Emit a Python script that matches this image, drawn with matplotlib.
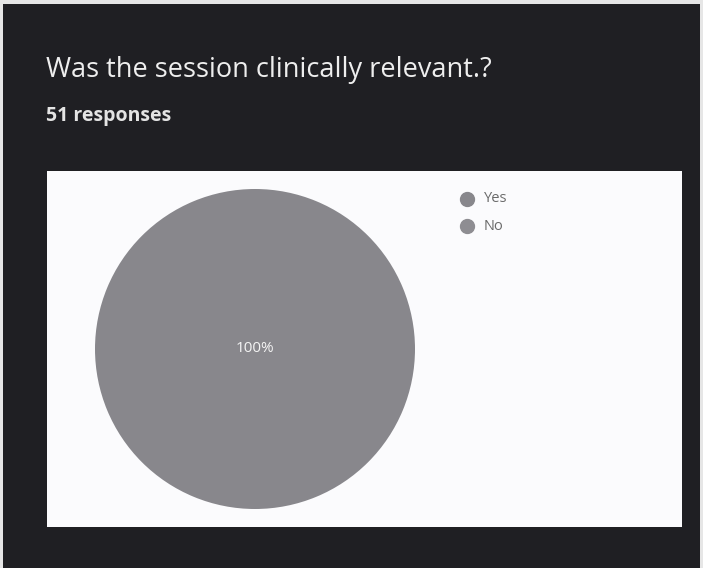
import matplotlib.pyplot as plt
from matplotlib.patches import Rectangle
from matplotlib.lines import Line2D

title = "Was the session clinically relevant.?"
subtitle = "51 responses"
labels = ["Yes", "No"]
counts = [51, 0]
colors = ["#88878c", "#8e8d92"]

W, H = 703, 568
fig = plt.figure(figsize=(W / 100, H / 100), dpi=100)
fig.patch.set_facecolor("#e6e6e6")

def box(x0, y0, x1, y1):
    # pixel coords (top-left origin) -> figure fraction
    return (x0 / W, 1 - y1 / H, (x1 - x0) / W, (y1 - y0) / H)

# dark card
x, y, w, h = box(3, 4, 700, 568)
fig.patches.append(Rectangle((x, y), w, h, transform=fig.transFigure,
                             facecolor="#1f1f23", edgecolor="none", zorder=0))
# white chart panel
x, y, w, h = box(47, 171, 682, 527)
fig.patches.append(Rectangle((x, y), w, h, transform=fig.transFigure,
                             facecolor="#fbfbfd", edgecolor="none", zorder=1))

fig.text(46 / W, 1 - 77 / H, title, color="#eeeeee", fontsize=19.5,
         fontfamily="Open Sans", va="baseline", ha="left")
fig.text(46 / W, 1 - 121 / H, subtitle, color="#e4e4e4", fontsize=14,
         fontfamily="Open Sans", fontweight="bold", va="baseline", ha="left")

ax = fig.add_axes(box(95, 189, 415, 509))
ax.set_zorder(2)
wedges, texts, autotexts = ax.pie(
    counts, colors=colors, startangle=90, counterclock=False,
    autopct=lambda p: f"{p:.0f}%" if p > 0 else "", pctdistance=0.0,
    textprops=dict(color="#f4f4f4", fontsize=11, fontfamily="Open Sans"),
    wedgeprops=dict(linewidth=0))
ax.set_xlim(-1, 1)
ax.set_ylim(-1, 1)
ax.set_aspect("auto")
ax.axis("off")

# legend with round markers
for i, (lab, col) in enumerate(zip(labels, colors)):
    yy = 1 - (199 + 27 * i) / H
    fig.lines.append(Line2D([467 / W], [yy], transform=fig.transFigure,
                            marker="o", markersize=10, color=col,
                            linestyle="none", zorder=3))
    fig.text(484 / W, yy, lab, color="#6a6a6a", fontsize=10.5,
             fontfamily="Open Sans", va="center", ha="left", zorder=3)

fig.savefig("out.png", dpi=100, facecolor=fig.get_facecolor())
